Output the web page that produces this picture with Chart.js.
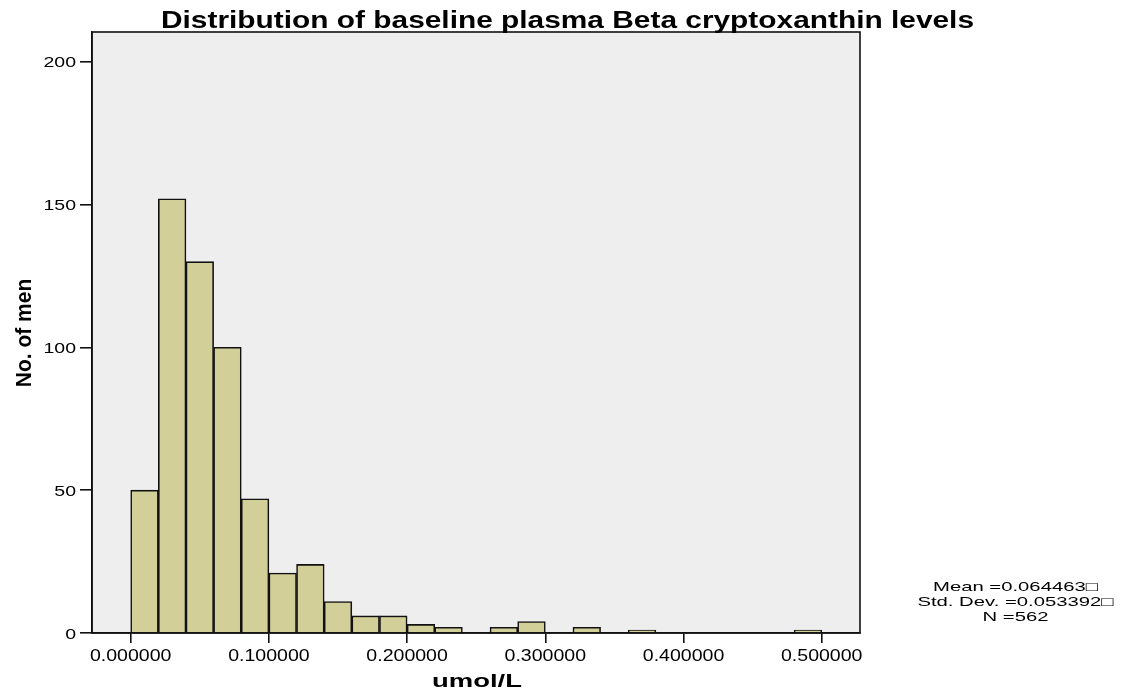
<!DOCTYPE html>
<html>
<head>
<meta charset="utf-8">
<script src="https://cdn.jsdelivr.net/npm/chart.js@4/dist/chart.umd.min.js"></script>
<style>
  html, body { margin: 0; padding: 0; background: #ffffff; }
  #wrap { width: 1132px; height: 694px; position: relative; }
</style>
</head>
<body>
<div id="wrap"><canvas id="hist"></canvas></div>
<script>
// Histogram of baseline plasma beta-cryptoxanthin (umol/L), bins of 0.02
const binLower = [0.00, 0.02, 0.04, 0.06, 0.08, 0.10, 0.12, 0.14, 0.16, 0.18,
                  0.20, 0.22, 0.24, 0.26, 0.28, 0.30, 0.32, 0.34, 0.36, 0.38,
                  0.40, 0.42, 0.44, 0.46, 0.48];
const counts   = [50, 152, 130, 100, 47, 21, 24, 11, 6, 6,
                  3, 2, 0, 2, 4, 0, 2, 0, 1, 0,
                  0, 0, 0, 0, 1];
const binWidth = 0.02;

const xTickValues = [0, 0.1, 0.2, 0.3, 0.4, 0.5];
const xTickLabels = ['0.000000', '0.100000', '0.200000', '0.300000', '0.400000', '0.500000'];
const yTickValues = [0, 50, 100, 150, 200];
const yTickLabels = ['0', '50', '100', '150', '200'];

const titleText = 'Distribution of baseline plasma Beta cryptoxanthin levels';
const xTitle = 'umol/L';
const yTitle = 'No. of men';
const statLines = ['Mean =0.064463\u25A1', 'Std. Dev. =0.053392\u25A1', 'N =562'];

const FONT = '"Liberation Sans", Arial, Helvetica, sans-serif';

// draw text horizontally stretched by factor sx
function stretchText(ctx, text, x, y, font, sx, align) {
  ctx.save();
  ctx.font = font;
  ctx.translate(x, y);
  ctx.scale(sx, 1);
  ctx.textAlign = align || 'center';
  ctx.textBaseline = 'alphabetic';
  ctx.fillStyle = '#000';
  ctx.fillText(text, 0, 0);
  ctx.restore();
}
// horizontal factor that makes a string span the given width
function widthScale(ctx, text, font, target) {
  ctx.save();
  ctx.font = font;
  const w = ctx.measureText(text).width;
  ctx.restore();
  return target / w;
}

const plotBackground = {
  id: 'plotBackground',
  beforeDraw(chart) {
    const { ctx, chartArea: a } = chart;
    ctx.save();
    ctx.fillStyle = '#EEEEEE';
    ctx.fillRect(a.left, a.top, a.right - a.left, a.bottom - a.top);
    ctx.restore();
  }
};

const frameAndText = {
  id: 'frameAndText',
  afterDraw(chart) {
    const { ctx, chartArea: a } = chart;
    const xs = chart.scales.x, ys = chart.scales.y;

    // plot frame
    ctx.save();
    ctx.strokeStyle = '#111';
    ctx.lineWidth = 1.6;
    ctx.strokeRect(a.left, a.top, a.right - a.left, a.bottom - a.top);
    ctx.restore();

    // x tick labels
    const xf = '17px ' + FONT;
    const xsx = widthScale(ctx, '0.000000', xf, 81.5);
    xTickValues.forEach((v, i) => {
      stretchText(ctx, xTickLabels[i], xs.getPixelForValue(v), 660.5, xf, xsx, 'center');
    });

    // y tick labels
    const yf = '15px ' + FONT;
    const ysx = widthScale(ctx, '200', yf, 32.5);
    yTickValues.forEach((v, i) => {
      stretchText(ctx, yTickLabels[i], 76, ys.getPixelForValue(v) + 5.5, yf, ysx, 'right');
    });

    // chart title
    const tf = 'bold 23px ' + FONT;
    stretchText(ctx, titleText, 567.5, 28, tf, widthScale(ctx, titleText, tf, 813), 'center');

    // x axis title
    const xtf = 'bold 19px ' + FONT;
    stretchText(ctx, xTitle, 477, 687, xtf, widthScale(ctx, xTitle, xtf, 90), 'center');

    // y axis title (rotated)
    ctx.save();
    ctx.translate(31, 333);
    ctx.rotate(-Math.PI / 2);
    ctx.scale(1, 1.05);
    ctx.font = 'bold 21px ' + FONT;
    ctx.textAlign = 'center';
    ctx.textBaseline = 'alphabetic';
    ctx.fillStyle = '#000';
    ctx.fillText(yTitle, 0, 0);
    ctx.restore();

    // summary statistics
    const sf = '13px ' + FONT;
    const ssx = widthScale(ctx, statLines[0], sf, 165);
    const baselines = [591, 605.5, 620.5];
    statLines.forEach((t, i) => stretchText(ctx, t, 1015.5, baselines[i], sf, ssx, 'center'));
  }
};

new Chart(document.getElementById('hist'), {
  type: 'bar',
  data: {
    datasets: [{
      data: binLower.map((lo, i) => ({ x: lo + binWidth / 2, y: counts[i] })),
      backgroundColor: '#D3CF99',
      borderColor: '#111',
      borderWidth: 1.6,
      borderSkipped: 'bottom',
      barPercentage: 1,
      categoryPercentage: 1,
      grouped: false
    }]
  },
  options: {
    responsive: true,
    maintainAspectRatio: false,
    animation: false,
    layout: { padding: { top: 32, right: 272, left: 0, bottom: 0 } },
    plugins: {
      legend: { display: false },
      title: { display: false },
      tooltip: { enabled: false }
    },
    scales: {
      x: {
        type: 'linear',
        min: -0.028,
        max: 0.5277,
        offset: false,
        afterBuildTicks: s => { s.ticks = xTickValues.map(v => ({ value: v })); },
        afterFit: s => { s.height = 61; },
        ticks: { display: false },
        grid: { drawOnChartArea: false, drawTicks: true, tickLength: 10, color: '#111', lineWidth: 1.6, offset: false },
        border: { display: true, color: '#111', width: 1.6 }
      },
      y: {
        type: 'linear',
        min: 0,
        max: 210.4,
        afterBuildTicks: s => { s.ticks = yTickValues.map(v => ({ value: v })); },
        afterFit: s => { s.width = 92; },
        ticks: { display: false },
        grid: { drawOnChartArea: false, drawTicks: true, tickLength: 12, color: '#111', lineWidth: 1.6 },
        border: { display: true, color: '#111', width: 1.6 }
      }
    }
  },
  plugins: [plotBackground, frameAndText]
});
</script>
</body>
</html>
